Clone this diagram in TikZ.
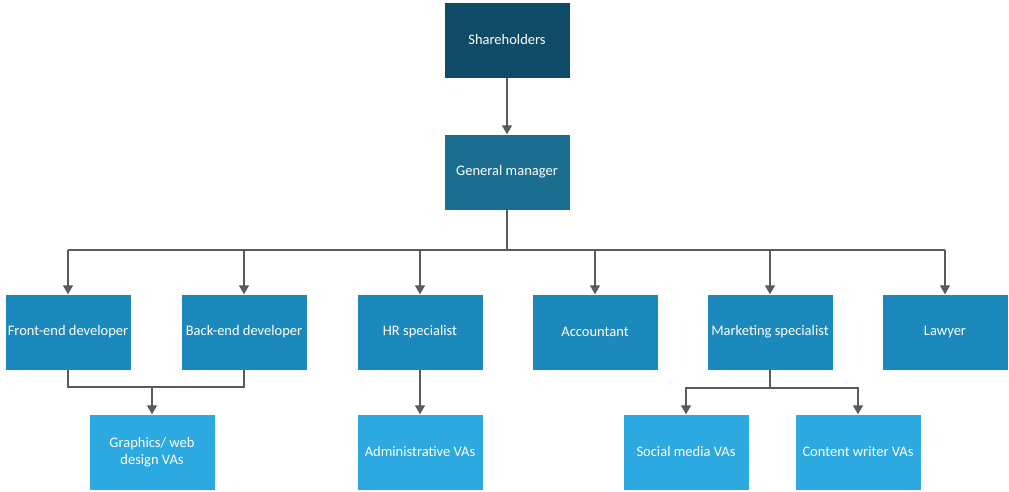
\documentclass[tikz,border=0pt]{standalone}
\usepackage{fontspec}
\setmainfont{Carlito}
\usepackage{tikz}
\usetikzlibrary{arrows.meta}
\definecolor{boardblue}{HTML}{0F4B67}
\definecolor{gmblue}{HTML}{1B6E90}
\definecolor{staffblue}{HTML}{1B89BC}
\definecolor{vablue}{HTML}{2CA9E0}
\definecolor{linegray}{HTML}{5A5A5A}
\tikzset{
  orgnode/.style = {shape=rectangle, align=center, text=white,
                    minimum width=125pt, minimum height=75pt,
                    inner sep=1pt, font=\fontsize{14.5}{17}\selectfont},
  board/.style   = {orgnode, fill=boardblue},
  manager/.style = {orgnode, fill=gmblue},
  staff/.style   = {orgnode, fill=staffblue},
  va/.style      = {orgnode, fill=vablue},
  link/.style    = {draw=linegray, line width=1.2pt},
  arrow/.style   = {link, -{Triangle[length=9pt,width=10pt]}}
}

\begin{document}
\begin{tikzpicture}
  [
    x = 1pt,
    y = -1pt
  ]
  \useasboundingbox [fill=white] (0,0) rectangle (1009,491);

  \node [board]   (share) at (507,40)  {Shareholders};
  \node [manager] (gm)    at (507,172) {General manager};

  \node [staff] (front)  at (68,332)  {Front-end developer};
  \node [staff] (back)   at (244,332) {Back-end developer};
  \node [staff] (hr)     at (420,332) {HR specialist};
  \node [staff] (acc)    at (595,332) {Accountant};
  \node [staff] (market) at (770,332) {Marketing specialist};
  \node [staff] (lawyer) at (945,332) {Lawyer};

  \node [va] (graphics) at (152,452) {Graphics/ web\\design VAs};
  \node [va] (admin)    at (420,452) {Administrative VAs};
  \node [va] (social)   at (686,452) {Social media VAs};
  \node [va] (writer)   at (858,452) {Content writer VAs};

  \coordinate (bus) at (507,250);
  \coordinate (devjoin) at (152,387);
  \coordinate (mkjoin) at (770,388);

  \draw [arrow] (share) -- (gm);
  \draw [link] (gm) -- (bus);
  \draw [link] (front.north |- bus) -- (lawyer.north |- bus);
  \foreach \n in {front,back,hr,acc,market,lawyer}
    \draw [arrow] (\n.north |- bus) -- (\n);

  % developers share the graphics team
  \draw [link] (front) |- (devjoin) -| (back);
  \draw [arrow] (devjoin) -- (graphics);

  \draw [arrow] (hr) -- (admin);

  \draw [link] (market) -- (mkjoin);
  \draw [arrow] (mkjoin) -| (social);
  \draw [arrow] (mkjoin) -| (writer);
\end{tikzpicture}
\end{document}
